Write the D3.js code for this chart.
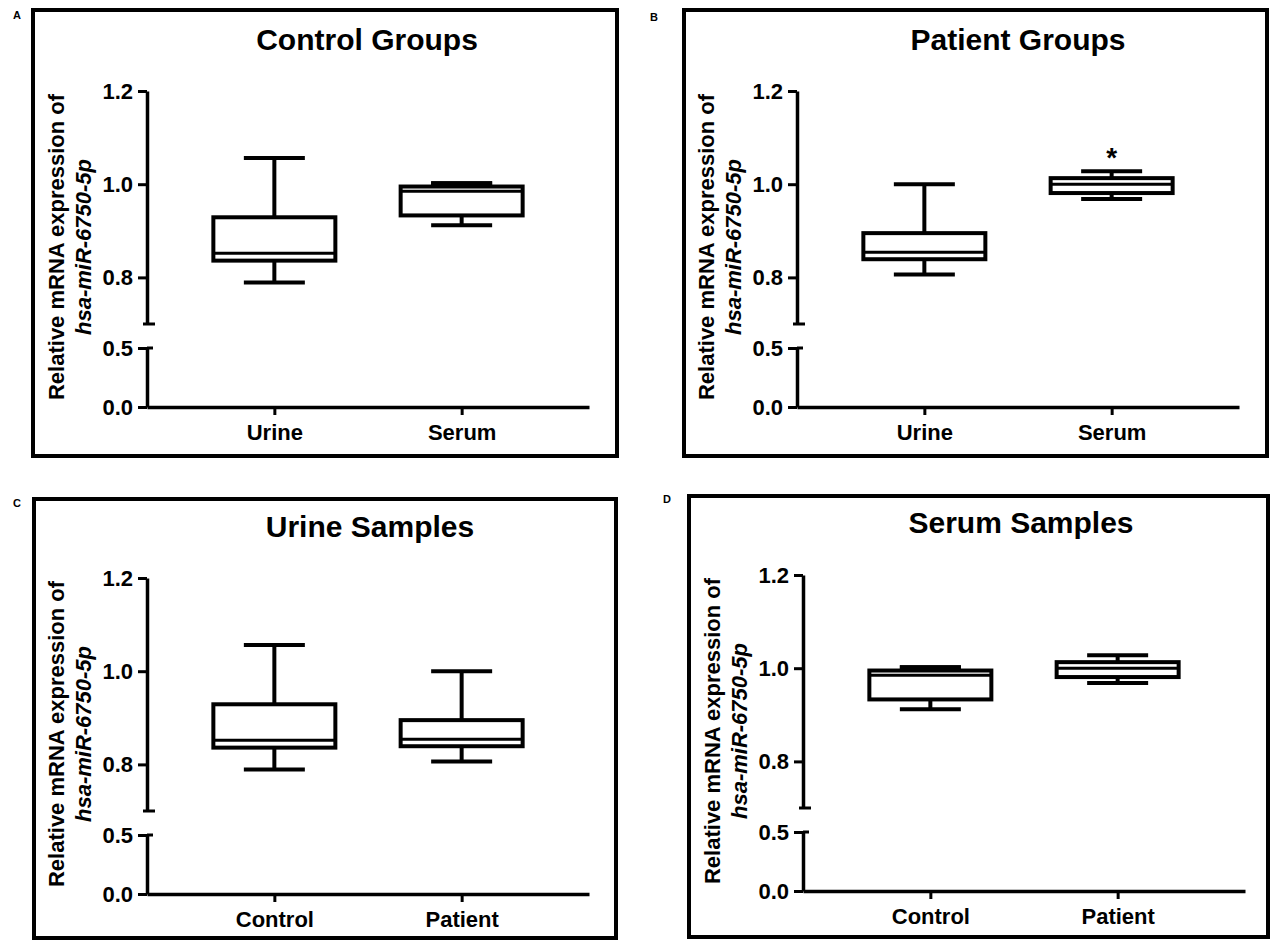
<!DOCTYPE html>
<html>
<head>
<meta charset="utf-8">
<script src="https://cdn.jsdelivr.net/npm/d3@7"></script>
<style>
  html, body { margin: 0; padding: 0; background: #fff; }
  svg { display: block; }
  text { font-family: "Liberation Sans", Arial, sans-serif; fill: #000; }
</style>
</head>
<body>
<svg id="chart" width="1277" height="943"></svg>
<script>
// ---------------- DATA ----------------
const panelLetters = ["A", "B", "C", "D"];
const panelTitles = ["Control Groups", "Patient Groups", "Urine Samples", "Serum Samples"];
const categoriesAB = ["Urine", "Serum"];
const categoriesCD = ["Control", "Patient"];
const yLabelLine1 = "Relative mRNA expression of";
const yLabelLine2 = "hsa-miR-6750-5p";
// box statistics: [min, q1, median, q3, max]
const urineControl = [0.789, 0.836, 0.852, 0.929, 1.056];
const serumControl = [0.912, 0.933, 0.985, 0.995, 1.002];
const urinePatient = [0.806, 0.839, 0.854, 0.895, 1.000];
const serumPatient = [0.968, 0.981, 1.000, 1.013, 1.028];
const upperTicks = [0.8, 1.0, 1.2];
const lowerTicks = [0.0, 0.5];
const upperDomain = [0.7, 1.2];
const lowerDomain = [0.0, 0.5];
// significance marks per panel (category index), "" = none
const sigA = ["", ""];
const sigB = ["", "*"];
const sigC = ["", ""];
const sigD = ["", ""];

// -------------- LAYOUT --------------
const panels = [
  { letter: panelLetters[0], title: panelTitles[0], cats: categoriesAB, boxes: [urineControl, serumControl], sig: sigA,
    frame: [33, 10, 584, 446], axisX: 147, y0: 407, letterPos: [13, 19], titleX: 367, titleY: 50 },
  { letter: panelLetters[1], title: panelTitles[1], cats: categoriesAB, boxes: [urinePatient, serumPatient], sig: sigB,
    frame: [684, 10, 583, 446], axisX: 797, y0: 407, letterPos: [650, 21], titleX: 1018, titleY: 50 },
  { letter: panelLetters[2], title: panelTitles[2], cats: categoriesCD, boxes: [urineControl, urinePatient], sig: sigC,
    frame: [34, 499, 582, 439], axisX: 147, y0: 894, letterPos: [13, 507], titleX: 370, titleY: 537 },
  { letter: panelLetters[3], title: panelTitles[3], cats: categoriesCD, boxes: [serumControl, serumPatient], sig: sigD,
    frame: [689, 496, 579, 441], axisX: 803, y0: 891, letterPos: [663, 503], titleX: 1021, titleY: 533 }
];

const svg = d3.select("#chart");
const fmt = d3.format(".1f");
const BOX_W = 122, CAP_W = 61, LW = 4;

panels.forEach(p => {
  const g = svg.append("g");

  // frame
  g.append("rect")
    .attr("x", p.frame[0]).attr("y", p.frame[1])
    .attr("width", p.frame[2]).attr("height", p.frame[3])
    .attr("fill", "none").attr("stroke", "#000").attr("stroke-width", 4);

  // panel letter
  g.append("text").attr("x", p.letterPos[0]).attr("y", p.letterPos[1])
    .attr("font-size", 11).attr("font-weight", "bold").text(p.letter);

  // title
  g.append("text").attr("x", p.titleX).attr("y", p.titleY)
    .attr("text-anchor", "middle").attr("font-size", 30).attr("font-weight", "bold")
    .text(p.title);

  // scales
  const yLower = d3.scaleLinear().domain(lowerDomain).range([p.y0, p.y0 - 59]);
  const yUpper = d3.scaleLinear().domain(upperDomain).range([p.y0 - 83, p.y0 - 316]);
  const y = v => (v >= upperDomain[0] ? yUpper(v) : yLower(v));
  const x = d3.scalePoint().domain(p.cats).range([p.axisX, p.axisX + 442]).padding(0.68);

  // y axis upper segment
  const ua = g.append("g").attr("transform", `translate(${p.axisX},0)`)
    .call(d3.axisLeft(yUpper).tickValues(upperTicks).tickFormat(fmt).tickSize(9).tickSizeOuter(0).tickPadding(5));
  // y axis lower segment
  const la = g.append("g").attr("transform", `translate(${p.axisX},0)`)
    .call(d3.axisLeft(yLower).tickValues(lowerTicks).tickFormat(fmt).tickSize(9).tickSizeOuter(0).tickPadding(5));
  [ua, la].forEach(a => {
    a.select(".domain").attr("stroke", "#000").attr("stroke-width", 3.5);
    a.selectAll(".tick line").attr("stroke", "#000").attr("stroke-width", 3);
    a.selectAll(".tick text").attr("font-size", 22).attr("font-weight", "bold")
      .attr("font-family", "'Liberation Sans', Arial, sans-serif").attr("fill", "#000");
  });
  // break caps
  g.append("line").attr("x1", p.axisX - 4).attr("x2", p.axisX + 8)
    .attr("y1", yUpper(upperDomain[0])).attr("y2", yUpper(upperDomain[0]))
    .attr("stroke", "#000").attr("stroke-width", 3);
  g.append("line").attr("x1", p.axisX).attr("x2", p.axisX + 6)
    .attr("y1", yLower(lowerDomain[1])).attr("y2", yLower(lowerDomain[1]))
    .attr("stroke", "#000").attr("stroke-width", 3);

  // x axis
  const xa = g.append("g").attr("transform", `translate(0,${p.y0})`)
    .call(d3.axisBottom(x).tickSize(8).tickSizeOuter(0).tickPadding(9));
  xa.select(".domain").attr("stroke", "#000").attr("stroke-width", 3.5);
  xa.selectAll(".tick line").attr("stroke", "#000").attr("stroke-width", 3);
  xa.selectAll(".tick text").attr("font-size", 22).attr("font-weight", "bold")
    .attr("font-family", "'Liberation Sans', Arial, sans-serif").attr("fill", "#000");

  // y label
  const lab = g.append("text")
    .attr("transform", `translate(${p.axisX - 91},${p.y0 - 160}) rotate(-90)`)
    .attr("text-anchor", "middle").attr("font-size", 22).attr("font-weight", "bold");
  lab.append("tspan").attr("x", 0).attr("y", 0).attr("dy", "0.35em").text(yLabelLine1);
  lab.append("tspan").attr("x", 0).attr("y", 0).attr("dy", "1.6em").attr("font-style", "italic").text(yLabelLine2);

  // boxes
  p.boxes.forEach((b, i) => {
    const cx = x(p.cats[i]);
    const [mn, q1, md, q3, mx] = b;
    const bg = g.append("g");
    // whiskers
    bg.append("line").attr("x1", cx).attr("x2", cx).attr("y1", y(q3)).attr("y2", y(mx))
      .attr("stroke", "#000").attr("stroke-width", LW);
    bg.append("line").attr("x1", cx).attr("x2", cx).attr("y1", y(q1)).attr("y2", y(mn))
      .attr("stroke", "#000").attr("stroke-width", LW);
    bg.append("line").attr("x1", cx - CAP_W / 2).attr("x2", cx + CAP_W / 2).attr("y1", y(mx)).attr("y2", y(mx))
      .attr("stroke", "#000").attr("stroke-width", LW);
    bg.append("line").attr("x1", cx - CAP_W / 2).attr("x2", cx + CAP_W / 2).attr("y1", y(mn)).attr("y2", y(mn))
      .attr("stroke", "#000").attr("stroke-width", LW);
    // box
    bg.append("rect").attr("x", cx - BOX_W / 2).attr("width", BOX_W)
      .attr("y", y(q3)).attr("height", y(q1) - y(q3))
      .attr("fill", "#fff").attr("stroke", "#000").attr("stroke-width", LW);
    // median
    bg.append("line").attr("x1", cx - BOX_W / 2).attr("x2", cx + BOX_W / 2).attr("y1", y(md)).attr("y2", y(md))
      .attr("stroke", "#000").attr("stroke-width", 3);
    // cap over box top if overlapping
    if (y(q3) - y(mx) < 4) {
      bg.append("line").attr("x1", cx - CAP_W / 2).attr("x2", cx + CAP_W / 2).attr("y1", y(mx)).attr("y2", y(mx))
        .attr("stroke", "#000").attr("stroke-width", LW);
    }
    // significance
    if (p.sig[i]) {
      g.append("text").attr("x", cx).attr("y", y(mx) - 4)
        .attr("text-anchor", "middle").attr("font-size", 28).attr("font-weight", "bold")
        .text(p.sig[i]);
    }
  });
});
</script>
</body>
</html>
